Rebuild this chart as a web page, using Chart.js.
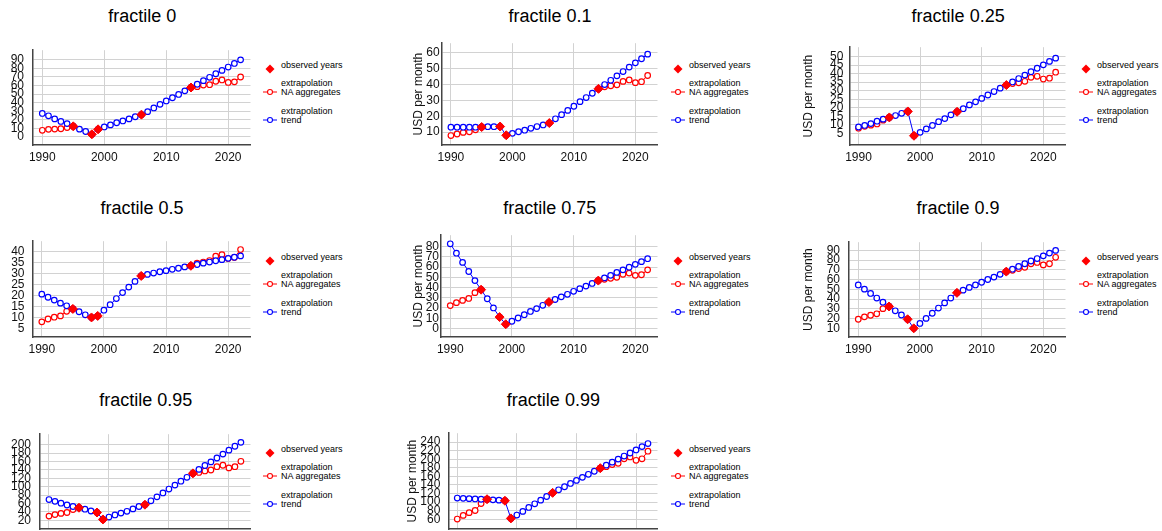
<!DOCTYPE html>
<html>
<head>
<meta charset="utf-8">
<script src="https://cdn.jsdelivr.net/npm/chart.js@4.4.0/dist/chart.umd.min.js"></script>
<style>
  html, body { margin: 0; padding: 0; background: #fff; }
  body { width: 1162px; height: 531px; overflow: hidden; position: relative;
         font-family: "Liberation Sans", Arial, sans-serif; }
  canvas { position: absolute; }
  .title { position: absolute; width: 240px; text-align: center; font-size: 18px; line-height: 20px; color: #000; }
  .lg { position: absolute; font-size: 9px; line-height: 9px; color: #000; white-space: nowrap; }
  .mk { position: absolute; }
</style>
</head>
<body>
<script>
// years on the x axis and the years that were actually observed
const years = [1990, 1991, 1992, 1993, 1994, 1995, 1996, 1997, 1998, 1999, 2000, 2001, 2002, 2003, 2004, 2005,
               2006, 2007, 2008, 2009, 2010, 2011, 2012, 2013, 2014, 2015, 2016, 2017, 2018, 2019, 2020, 2021, 2022];
const observedYears = [1995, 1998, 1999, 2006, 2014];
const xTicks = [1990, 2000, 2010, 2020];

// fractile 0
const trend_0 = [27.4, 24.6, 21, 18, 15.5, 12.3, 9, 6.3, 3, 8.8, 11.6, 14, 16.5, 18.6, 21, 23.5,
                 26, 29.5, 33.8, 38, 42, 45.7, 49.6, 53.8, 57.7, 61.5, 65.7, 69.6, 73.8, 77.7, 81.6, 85.8, 90];
const naEarly_0 = [7.7, 8.8, 9.1, 9.5, 10.9, 12.3];            // 1990-1995
const naLate_0 = [57.7, 58.7, 60.5, 61, 65, 66.5, 63.6, 64.3, 70]; // 2014-2022
const obs_0 = [12.3, 3, 8.8, 26, 57.7];
const yTicks_0 = [0, 10, 20, 30, 40, 50, 60, 70, 80, 90];

// fractile 0.1
const trend_01 = [13.1, 13.1, 13.1, 13.1, 13.1, 13.2, 13.4, 13.4, 13.5, 8, 9.2, 10.2, 11.2, 12.4, 13.5, 14.5,
                  15.7, 18.4, 21, 23.7, 26.3, 29.2, 31.8, 34.5, 37.3, 40, 42.7, 45.5, 48.2, 51, 53.7, 56.3, 59.2];
const naEarly_01 = [7.8, 8.8, 9.8, 10.2, 11.4, 13.2];
const naLate_01 = [37.3, 38.6, 39.2, 39.8, 42, 42.9, 41.2, 41.8, 45.7];
const obs_01 = [13.2, 13.5, 8, 15.7, 37.3];
const yTicks_01 = [10, 20, 30, 40, 50, 60];

// fractile 0.25
const trend_025 = [8.8, 9.7, 10.8, 12.2, 13.4, 14.4, 15.5, 16.8, 17.9, 3.7, 5.7, 7.7, 9.7, 11.9, 13.7, 15.9,
                   17.7, 19.5, 21.7, 23.5, 25.5, 27.5, 29.5, 31.5, 33.3, 35.1, 37.1, 39.1, 41.1, 43.1, 45.1, 47.1, 49];
const naEarly_025 = [8.1, 9.2, 9.9, 10.6, 12.8, 14.4];
const naLate_025 = [33.3, 34.2, 34.6, 35.5, 37.8, 38.4, 36.8, 37.3, 40.8];
const obs_025 = [14.4, 17.9, 3.7, 17.7, 33.3];
const yTicks_025 = [5, 10, 15, 20, 25, 30, 35, 40, 45, 50];

// fractile 0.5
const trend_05 = [20.8, 19.4, 18.1, 16.7, 15.5, 14.1, 12.8, 11.4, 10.2, 10.9, 13.5, 16, 18.8, 21.5, 24, 26.6,
                  29.1, 29.8, 30.4, 31, 31.5, 32.1, 32.6, 33.2, 33.7, 34.3, 34.9, 35.4, 36, 36.5, 37.1, 37.6, 38.2];
const naEarly_05 = [8.2, 9.5, 10.3, 10.9, 13, 14.1];
const naLate_05 = [33.7, 34.9, 35.4, 36.1, 38.1, 38.8, 37, 37.5, 41.1];
const obs_05 = [14.1, 10.2, 10.9, 29.1, 33.7];
const yTicks_05 = [5, 10, 15, 20, 25, 30, 35, 40];

// fractile 0.75
const trend_075 = [82.8, 73.6, 64.6, 55.7, 46.8, 37.9, 29, 20, 11.1, 4.1, 7, 10.2, 13.4, 16.6, 19.4, 22.6,
                   25.8, 28.3, 30.9, 33.4, 36.3, 38.9, 41.4, 44, 46.8, 49.4, 51.9, 54.8, 57.3, 59.9, 62.7, 65.3, 68.2];
const naEarly_075 = [22.3, 25.2, 27.4, 29.3, 35, 37.9];
const naLate_075 = [46.8, 48, 49, 50, 52.9, 54.1, 51.9, 52.5, 57.3];
const obs_075 = [37.9, 11.1, 4.1, 25.8, 46.8];
const yTicks_075 = [0, 10, 20, 30, 40, 50, 60, 70, 80];

// fractile 0.9
const trend_09 = [54.5, 50.2, 45.8, 41.1, 36.8, 32.4, 28, 23.7, 19.3, 10, 15, 20.2, 25.5, 30.8, 36.1, 41.1,
                  46.4, 49.2, 52, 54.5, 57.3, 60.1, 62.6, 65.4, 68.2, 70.7, 73.5, 76.3, 79.1, 81.6, 84.4, 87.2, 90];
const naEarly_09 = [19.3, 21.8, 23.4, 24.9, 30.2, 32.4];
const naLate_09 = [68.2, 69.5, 71.3, 72.6, 76.3, 77.6, 75.1, 76.3, 82.9];
const obs_09 = [32.4, 19.3, 10, 46.4, 68.2];
const yTicks_09 = [10, 20, 30, 40, 50, 60, 70, 80, 90];

// fractile 0.95
const trend_095 = [69.5, 65.2, 60.9, 56.6, 53, 50.1, 46.6, 42.3, 38.7, 22.2, 27.9, 32.9, 37.3, 41.6, 47.3, 53,
                   57.3, 66.6, 76, 85.3, 94.6, 104, 113.3, 122.6, 131.9, 141.3, 150.6, 159.2, 168.5, 177.8, 187.2, 196.5, 205.8];
const naEarly_095 = [30.1, 33.7, 36.5, 38.7, 45.8, 50.1];
const naLate_095 = [131.9, 134.1, 137.7, 139.9, 147.8, 151.3, 144.9, 147.8, 160.7];
const obs_095 = [50.1, 38.7, 22.2, 57.3, 131.9];
const yTicks_095 = [20, 40, 60, 80, 100, 120, 140, 160, 180, 200];

// fractile 0.99
const trend_099 = [109.6, 108.9, 108.2, 107.5, 106.8, 106.8, 105.4, 104.7, 103.3, 62.2, 70, 78.5, 87.7, 96.2, 104.7, 113.2,
                   121.7, 128.8, 135.9, 143.6, 150.7, 157.8, 164.9, 172, 179.1, 186.2, 193.2, 200.3, 207.4, 214.5, 221.6, 229.4, 236.5];
const naEarly_099 = [60.7, 69.2, 75.6, 80.6, 96.9, 106.8];
const naLate_099 = [179.1, 182.6, 187.5, 190.4, 201, 205.3, 197.5, 201, 218.7];
const obs_099 = [106.8, 103.3, 62.2, 121.7, 179.1];
const yTicks_099 = [60, 80, 100, 120, 140, 160, 180, 200, 220, 240];

const RED = '#ff0000';
const BLUE = '#0000ff';
const FONT = '"Liberation Sans", Arial, sans-serif';
Chart.defaults.font.family = FONT;

// panel placement: column, row, x of the y axis, y-range, tick gap
const rowTop = [40, 232, 424];
const rowBottom = [145, 336.5, 529.3];
const colRight = [251.5, 658.5, 1067];
const legendX = [270, 678, 1086];

const panels = [
  { title: 'fractile 0',    trend: trend_0,   early: naEarly_0,   late: naLate_0,   obs: obs_0,   ticks: yTicks_0,   min: -9.5, max: 101.3, col: 0, row: 0, left: 0,   axisX: 33,    pad: 9 },
  { title: 'fractile 0.1',  trend: trend_01,  early: naEarly_01,  late: naLate_01,  obs: obs_01,  ticks: yTicks_01,  min: 1.85, max: 66.1,  col: 1, row: 0, left: 407, axisX: 441.7, pad: 2 },
  { title: 'fractile 0.25', trend: trend_025, early: naEarly_025, late: naLate_025, obs: obs_025, ticks: yTicks_025, min: -1.7, max: 55.4,  col: 2, row: 0, left: 797, axisX: 849.3, pad: 6 },
  { title: 'fractile 0.5',  trend: trend_05,  early: naEarly_05,  late: naLate_05,  obs: obs_05,  ticks: yTicks_05,  min: 1.3,  max: 44.9,  col: 0, row: 1, left: 0,   axisX: 32.5,  pad: 8 },
  { title: 'fractile 0.75', trend: trend_075, early: naEarly_075, late: naLate_075, obs: obs_075, ticks: yTicks_075, min: -8.4, max: 91.2,  col: 1, row: 1, left: 407, axisX: 441,   pad: 2 },
  { title: 'fractile 0.9',  trend: trend_09,  early: naEarly_09,  late: naLate_09,  obs: obs_09,  ticks: yTicks_09,  min: 1.1,  max: 98.4,  col: 2, row: 1, left: 797, axisX: 849,   pad: 9 },
  { title: 'fractile 0.95', trend: trend_095, early: naEarly_095, late: naLate_095, obs: obs_095, ticks: yTicks_095, min: -0.6, max: 225.2, col: 0, row: 2, left: 0,   axisX: 40,    pad: 9 },
  { title: 'fractile 0.99', trend: trend_099, early: naEarly_099, late: naLate_099, obs: obs_099, ticks: yTicks_099, min: 37.5, max: 260.6, col: 1, row: 2, left: 401, axisX: 448.3, pad: 8 }
];

function addLegend(mx, top) {
  const items = [
    { y: 25, kind: 'obs', text: 'observed years', lines: 1 },
    { y: 48.2, kind: 'na', text: 'extrapolation<br>NA aggregates', lines: 2 },
    { y: 75.5, kind: 'trend', text: 'extrapolation<br>trend', lines: 2 }
  ];
  items.forEach(it => {
    const mk = document.createElement('div');
    mk.className = 'mk';
    mk.style.left = (mx - 8) + 'px';
    mk.style.top = (top + it.y - 5) + 'px';
    if (it.kind === 'obs') {
      mk.innerHTML = '<svg width="16" height="10"><polygon points="8,0.5 12.5,5 8,9.5 3.5,5" fill="' + RED + '"/></svg>';
    } else {
      const c = it.kind === 'na' ? RED : BLUE;
      mk.innerHTML = '<svg width="16" height="10"><line x1="1" y1="5" x2="15" y2="5" stroke="' + c + '" stroke-width="1"/>' +
        '<circle cx="8" cy="5" r="2.5" fill="#fff" stroke="' + c + '" stroke-width="1.1"/></svg>';
    }
    document.body.appendChild(mk);
    const t = document.createElement('div');
    t.className = 'lg';
    t.style.left = (mx + 11) + 'px';
    t.style.top = (top + it.y - it.lines * 4.5) + 'px';
    t.innerHTML = it.text;
    document.body.appendChild(t);
  });
}

panels.forEach(p => {
  const plotTop = rowTop[p.row];
  const plotBottom = rowBottom[p.row];
  const plotRight = colRight[p.col];
  const left = p.left;
  const top = plotTop - 6;
  const axisW = p.axisX - left;

  const canvas = document.createElement('canvas');
  canvas.width = Math.round(plotRight - left + 4);
  canvas.height = Math.round(plotBottom - top + 30);
  canvas.style.left = left + 'px';
  canvas.style.top = top + 'px';
  document.body.appendChild(canvas);

  const title = document.createElement('div');
  title.className = 'title';
  title.style.left = ((p.axisX + plotRight) / 2 - 120) + 'px';
  title.style.top = (plotTop - 34.5) + 'px';
  title.textContent = p.title;
  document.body.appendChild(title);

  addLegend(legendX[p.col], plotTop);

  const na = p.early.concat(new Array(years.length - p.early.length - p.late.length).fill(null), p.late);
  const toXY = arr => arr.map((v, i) => ({ x: years[i], y: v }));

  new Chart(canvas, {
    type: 'line',
    data: {
      datasets: [
        {
          label: 'observed years',
          data: observedYears.map((yr, i) => ({ x: yr, y: p.obs[i] })),
          showLine: false,
          pointStyle: 'rectRot',
          pointRadius: 4.5,
          backgroundColor: RED,
          borderColor: RED
        },
        {
          label: 'extrapolation trend',
          data: toXY(p.trend),
          borderColor: BLUE,
          borderWidth: 1,
          pointRadius: 2.8,
          pointBorderWidth: 1.2,
          pointBackgroundColor: '#fff',
          pointBorderColor: BLUE
        },
        {
          label: 'extrapolation NA aggregates',
          data: toXY(na),
          borderColor: RED,
          borderWidth: 1,
          pointRadius: 2.8,
          pointBorderWidth: 1.2,
          pointBackgroundColor: '#fff',
          pointBorderColor: RED
        }
      ]
    },
    options: {
      responsive: false,
      animation: false,
      events: [],
      layout: { padding: { top: 6, right: 4, left: 0, bottom: 0 } },
      plugins: { legend: { display: false }, tooltip: { enabled: false } },
      scales: {
        x: {
          type: 'linear',
          min: 1988.5,
          max: 2023.6,
          afterBuildTicks: ax => { ax.ticks = xTicks.map(v => ({ value: v })); },
          afterFit: s => { s.height = 30; },
          ticks: { callback: v => String(v), autoSkip: false, maxRotation: 0, padding: 5,
                   color: '#111', font: { size: 12 } },
          grid: { color: '#d2d2d2', lineWidth: 1, drawTicks: false },
          border: { color: '#444', width: 1.5 }
        },
        y: {
          type: 'linear',
          min: p.min,
          max: p.max,
          afterBuildTicks: ax => { ax.ticks = p.ticks.map(v => ({ value: v })); },
          afterFit: s => { s.width = axisW; },
          ticks: { callback: v => String(v), autoSkip: false, padding: p.pad,
                   color: '#111', font: { size: 12 } },
          grid: { color: '#d2d2d2', lineWidth: 1, drawTicks: false },
          border: { color: '#444', width: 1.5 },
          title: { display: p.col > 0, text: 'USD per month', color: '#111',
                   font: { size: 12 }, padding: { top: 4, bottom: 4 } }
        }
      }
    }
  });
});
</script>
</body>
</html>
